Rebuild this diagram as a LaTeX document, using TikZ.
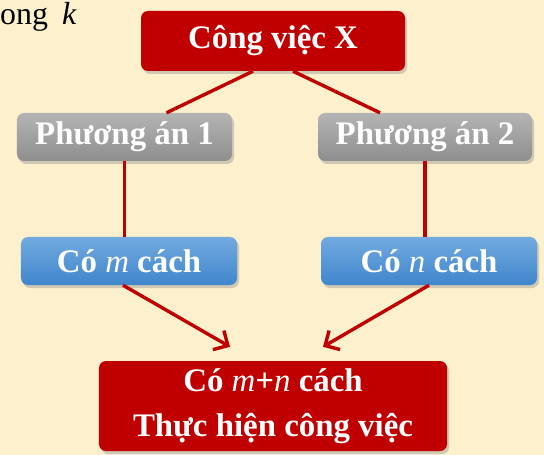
\documentclass[tikz,border=0pt]{standalone}
\usepackage{fontspec}
\setmainfont{Liberation Serif}
\usetikzlibrary{shadows,calc,arrows.meta}
\definecolor{paper}{HTML}{FCF0CD}
\definecolor{darkred}{HTML}{C00000}
\definecolor{greytop}{HTML}{B4B4B4}
\definecolor{greybot}{HTML}{8E8E8E}
\definecolor{bluetop}{HTML}{72AAE0}
\definecolor{bluebot}{HTML}{3F86CC}
\tikzset{
  box/.style={rounded corners=7bp, text=white, align=center,
    font=\fontsize{33}{45}\selectfont\bfseries, inner sep=0pt,
    drop shadow={opacity=0.35, shadow xshift=2bp, shadow yshift=-3bp}},
  redbox/.style={box, fill=darkred},
  greybox/.style={box, top color=greytop, bottom color=greybot},
  bluebox/.style={box, top color=bluetop, bottom color=bluebot},
  link/.style={draw=darkred, line width=3.4bp},
  arrowlink/.style={link, -{Straight Barb[length=11bp,width=22bp,line width=3.4bp]}},
}
\newcommand{\mvar}[1]{\textnormal{\textit{#1}}}
\begin{document}
\begin{tikzpicture}[x=1bp, y=-1bp]
  \fill[paper] (0,0) rectangle (544,455);
  \useasboundingbox (0,0) rectangle (544,455);

  % heading fragment at the top left
  \node[anchor=base west, inner sep=0pt, font=\fontsize{32}{36}\selectfont] (head) at (0,25) {ong\hspace{14bp}\textit{k}};

  % boxes
  \node[redbox, minimum width=264bp, minimum height=60bp] (cv) at (273,41) {Công việc X};
  \node[greybox, minimum width=215bp, minimum height=48bp] (pa1) at (124.5,137) {Phương án 1};
  \node[greybox, minimum width=214bp, minimum height=48bp] (pa2) at (425,137) {Phương án 2};
  \node[bluebox, minimum width=216bp, minimum height=48bp] (cm) at (129,261) {Có \mvar{m} cách};
  \node[bluebox, minimum width=216bp, minimum height=48bp] (cn) at (429,261) {Có \mvar{n} cách};
  \node[redbox, minimum width=348bp, minimum height=90bp] (kq) at (273,406)
    {Có \mvar{m}+\mvar{n} cách\\Thực hiện công việc};

  % connectors
  \draw[link] ($(cv.south)+(-20,0)$) -- ($(pa1.north)+(42,0)$);
  \draw[link] ($(cv.south)+(20,0)$) -- ($(pa2.north)+(-45,0)$);
  \draw[link] (pa1.south) -- (pa1.south |- cm.north);
  \draw[link] (pa2.south) -- (pa2.south |- cn.north);
  \draw[arrowlink] ($(cm.south)+(-6,0)$) -- ($(kq.north)+(-43,-14)$);
  \draw[arrowlink] ($(cn.south)+(0,0)$) -- ($(kq.north)+(50,-14)$);
\end{tikzpicture}
\end{document}
